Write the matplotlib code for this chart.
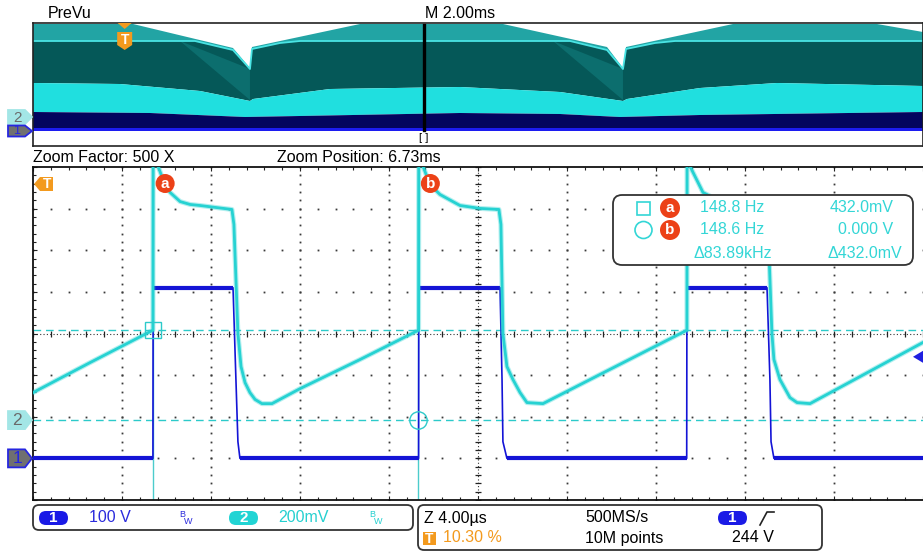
import numpy as np
import matplotlib.pyplot as plt
from matplotlib.patches import Polygon, FancyBboxPatch, Rectangle, Circle

plt.rcParams['font.family'] = ['Liberation Sans', 'DejaVu Sans']

W, H = 923, 552

# zoomed window: 4.00 us/div, 10 divisions
time_div = 4.0          # us/div
ch1_scale = 100.0       # V/div
ch1_pos = -3.0          # div
ch2_scale = 200.0       # mV/div
ch2_pos = -2.08         # div

# CH1 (switch node), us / V
ch1_t = [0, 5.39, 5.40, 8.99, 9.12, 9.21, 9.30, 17.33, 17.34, 20.99, 21.08, 21.12, 21.30,
         29.38, 29.39, 32.99, 33.12, 33.17, 33.30, 40.0]
ch1_v = [0, 0, 410, 410, 190, 40, 0, 0, 410, 410, 190, 40, 0,
         0, 410, 410, 190, 40, 0, 0]

# CH2 (current sense), us / mV
ch2_t = [0.0, 2.56, 5.39, 5.40, 5.62, 5.93, 6.16, 6.61, 7.06, 7.51, 8.18, 8.94, 9.03, 9.21,
         9.35, 9.53, 9.75, 9.98, 10.29, 10.74, 12.00, 14.70, 17.33,
         17.34, 17.53, 17.84, 18.29, 19.19, 20.09, 20.94, 21.03, 21.12, 21.30, 21.57, 21.89,
         22.20, 22.92, 25.48, 29.39,
         29.40, 29.53, 30.11, 30.88, 31.78, 32.94, 33.03, 33.21, 33.30, 33.57, 34.02, 34.34,
         34.92, 37.17, 40.0]
ch2_mv = [132, 276, 432, 1450, 1219, 1132, 1094, 1050, 1036, 1031, 1022, 1012, 940, 416,
          257, 180, 132, 99, 79, 79, 151, 291, 432,
          1450, 1219, 1132, 1084, 1031, 1017, 1012, 940, 416, 257, 195, 132,
          84, 79, 219, 432,
          1450, 1219, 1094, 1050, 1031, 1012, 940, 416, 291, 195, 108, 84,
          79, 209, 373]

# cursors and trigger
cur_a_t, cur_b_t = 5.40, 17.32      # us
cur_a_mv, cur_b_mv = 432.0, 0.0     # mV
trig_level = 244.0                  # V on CH1
trig_pct = 10.30                    # % of record
zoom_pos = 6.73                     # ms after trigger
prevu_div = 2.00                    # ms/div

# PreVu envelope, x in ms, rows in px below the frame top
pv_top_x = [0, 2.247, 4.494, 4.876, 4.921, 7.348, 10.562, 12.899, 13.258, 13.326, 15.730, 18.966, 20]
pv_top_y = [1, 1, 25, 45, 24, 1, 1, 24, 45, 24, 1, 1, 9]
pv_line_x = [0, 3.640, 4.494, 4.876, 4.921, 5.551, 6.0, 12.067, 12.899, 13.258, 13.326, 13.978, 14.427, 20]
pv_line_y = [18, 18, 27, 46, 26, 20, 18, 18, 27, 46, 26, 20, 18, 18]
pv_bright_x = [0, 1.955, 3.753, 4.876, 4.944, 6.674, 9.596, 11.843, 13.258, 13.348, 14.989, 16.719, 20]
pv_bright_y = [60, 61, 68, 78, 76, 66, 64, 69, 78, 76, 65, 60, 63]
pv_navy_x = [0, 2.629, 4.764, 6.0, 9.596, 11.843, 13.191, 14.989, 20]
pv_navy_y = [89, 90, 94, 93, 90, 91, 94, 92, 89]
pv_navy_bottom = 105
pv_wedges = [[(3.303, 18), (4.876, 46), (4.876, 77)],
             [(11.685, 18), (13.258, 46), (13.258, 77)]]

BLUE = '#1414d6'
CYAN = '#26d2d2'
CUR = '#4ccccc'
ORANGE = '#f39a1e'
RED = '#ec4117'
FS = 11.5

fig = plt.figure(figsize=(W / 100, H / 100), dpi=100)


def px_box(left, top, width, height):
    return [left / W, 1 - (top + height) / H, width / W, height / H]


ax = fig.add_axes(px_box(33, 167, 890, 333))
pv = fig.add_axes(px_box(33, 23, 890, 123))
ov = fig.add_axes([0, 0, 1, 1])
ov.set_xlim(0, W)
ov.set_ylim(H, 0)
ov.axis('off')

# ---------------- main graticule ----------------
ax.set_xlim(0, 10 * time_div)
ax.set_ylim(-4, 4)
for side in ['left', 'top', 'bottom']:
    ax.spines[side].set_linewidth(1.3)
    ax.spines[side].set_color('#111111')
ax.spines['right'].set_visible(False)
ax.set_xticks(np.arange(0, 40.01, time_div))
ax.set_xticks(np.arange(0, 40.01, time_div / 5), minor=True)
ax.set_yticks(np.arange(-4, 4.01, 1))
ax.set_yticks(np.arange(-4, 4.01, 0.2), minor=True)
ax.tick_params(which='both', direction='in', width=0.8, colors='#222222',
               labelleft=False, labelbottom=False, top=True, bottom=True,
               left=True, right=False)
ax.tick_params(which='major', length=3)
ax.tick_params(which='minor', length=2.2)

minor_y = np.arange(-4, 4.01, 0.2)
minor_x = np.arange(0, 40.01, time_div / 5)
for k in range(1, 10):
    if k == 5:
        continue
    ax.plot(np.full_like(minor_y, k * time_div), minor_y, ls='none', marker='s',
            ms=1.3, mew=0, color='#3a3a3a', zorder=1)
for j in range(-3, 4):
    if j == 0:
        continue
    ax.plot(minor_x, np.full_like(minor_x, j), ls='none', marker='s',
            ms=1.3, mew=0, color='#3a3a3a', zorder=1)

# centre cross with tick marks
ax.axvline(5 * time_div, ls=(0, (1, 2)), lw=0.8, color='#333333', zorder=1)
ax.axhline(0, ls=(0, (1, 2)), lw=0.8, color='#333333', zorder=1)
ax.plot(np.full_like(minor_y, 5 * time_div), minor_y, ls='none', marker='_',
        ms=5, mew=0.9, color='#222222', zorder=1)
ax.plot(minor_x, np.zeros_like(minor_x), ls='none', marker='|',
        ms=5, mew=0.9, color='#222222', zorder=1)

# cursors
for tc in (cur_a_t, cur_b_t):
    ax.axvline(tc, color=CUR, lw=1.0, zorder=2)
for lv in (cur_a_mv, cur_b_mv):
    ax.axhline(lv / ch2_scale + ch2_pos, color='#2ccaca', lw=1.0,
               ls=(0, (5.5, 3.5)), zorder=2)

# traces
t1 = np.array(ch1_t)
y1 = np.array(ch1_v) / ch1_scale + ch1_pos
ax.plot(t1, y1, color=BLUE, lw=1.2, zorder=3)
for i in np.where(np.diff(y1) == 0)[0]:
    ax.plot(t1[i:i + 2], y1[i:i + 2], color=BLUE, lw=3.0,
            solid_capstyle='butt', zorder=3)

t2 = np.array(ch2_t)
y2 = np.array(ch2_mv) / ch2_scale + ch2_pos
ax.plot(t2, y2, color=CYAN, lw=3.6, alpha=0.35, zorder=4)
ax.plot(t2, y2, color=CYAN, lw=2.0, zorder=4)

ax.plot(cur_a_t, cur_a_mv / ch2_scale + ch2_pos, marker='s', ms=11.5,
        mfc='none', mec='#2ccaca', mew=1.0, zorder=5)
ax.plot(cur_b_t, cur_b_mv / ch2_scale + ch2_pos, marker='o', ms=12.5,
        mfc='none', mec='#2ccaca', mew=1.0, zorder=5)

# ---------------- PreVu ----------------
pv.set_xlim(0, 10 * prevu_div)
pv.set_ylim(123, 0)
pv.set_xticks([])
pv.set_yticks([])
for s in pv.spines.values():
    s.set_linewidth(1.2)
    s.set_color('#222222')


def band(xa, ya, xb, yb, color):
    pts = list(zip(xa, ya)) + list(zip(xb, yb))[::-1]
    pv.add_patch(Polygon(pts, closed=True, fc=color, ec='none', zorder=1))


band(pv_top_x, pv_top_y, pv_line_x, pv_line_y, '#22a4a4')
band(pv_line_x, pv_line_y, pv_bright_x, pv_bright_y, '#055858')
for w in pv_wedges:
    pv.add_patch(Polygon(w, closed=True, fc='#0c6e6e', ec='none', zorder=1))
band(pv_bright_x, pv_bright_y, pv_navy_x, pv_navy_y, '#20dfdf')
band(pv_navy_x, pv_navy_y, [0, 20], [pv_navy_bottom] * 2, '#03055e')
pv.plot(pv_line_x, pv_line_y, color='#4ae4e4', lw=1.3, zorder=2)
pv.fill_between([0, 20], pv_navy_bottom, pv_navy_bottom + 2.5, color='#1c1cf0', lw=0, zorder=2)

trig_ms = trig_pct / 100 * 10 * prevu_div
zoom_ms = trig_ms + zoom_pos
pv.plot([zoom_ms, zoom_ms], [2, 107], color='black', lw=2.4, zorder=3)


def to_px(a, x, y):
    d = a.transData.transform((x, y))
    return ov.transData.inverted().transform(d)


# ---------------- markers ----------------
def tag(tip_x, y, label, fc, ec, tc, w=24, h=18, fs=12.5):
    pts = [(tip_x - w, y - h / 2), (tip_x - 7, y - h / 2), (tip_x, y),
           (tip_x - 7, y + h / 2), (tip_x - w, y + h / 2)]
    ov.add_patch(Polygon(pts, closed=True, fc=fc, ec=ec, lw=1.3, zorder=6))
    ov.text(tip_x - w / 2 - 3, y + 0.5, label, color=tc, ha='center', va='center',
            fontsize=fs, zorder=7)


_, g2 = to_px(ax, 0, cur_b_mv / ch2_scale + ch2_pos)
_, g1 = to_px(ax, 0, ch1_pos)
tag(32, g2, '2', '#a3e6e6', '#a3e6e6', '#6a6a6a')
tag(32, g1, '1', '#707070', '#2626e0', '#2626e0')
tag(32, 117, '2', '#a3e6e6', '#a3e6e6', '#6a6a6a', h=14, fs=11)
tag(32, 131, '1', '#707070', '#2626e0', '#2626e0', h=11, fs=9)

# trigger level arrow on the right edge
_, tl = to_px(ax, 0, trig_level / ch1_scale + ch1_pos)
ov.add_patch(Polygon([(913, tl), (923, tl - 6), (923, tl + 6)], closed=True,
                     fc='#1f1fe0', ec='none', zorder=6))

# trigger T in main window
ov.add_patch(Polygon([(34, 184), (40, 177), (53, 177), (53, 191), (40, 191)],
                     closed=True, fc=ORANGE, ec='none', zorder=6))
ov.text(47, 184.5, 'T', color='white', fontsize=10, fontweight='bold',
        ha='center', va='center', zorder=7)

# trigger T in PreVu
tx, _ = to_px(pv, trig_ms, 0)
ov.add_patch(Polygon([(tx - 7, 23), (tx + 7, 23), (tx, 29)], closed=True,
                     fc=ORANGE, ec='none', zorder=6))
ov.add_patch(Polygon([(tx - 7.5, 32), (tx + 7.5, 32), (tx + 7.5, 45), (tx, 50),
                      (tx - 7.5, 45)], closed=True, fc=ORANGE, ec='none', zorder=6))
ov.text(tx, 39.5, 'T', color='white', fontsize=10, fontweight='bold',
        ha='center', va='center', zorder=7)

zx, _ = to_px(pv, zoom_ms, 0)
ov.text(zx, 138, '[ ]', fontsize=8, ha='center', va='center')

# cursor labels
for tc, lab in ((cur_a_t, 'a'), (cur_b_t, 'b')):
    cx, cy = to_px(ax, tc, 4)
    ov.add_patch(Circle((cx + 12, cy + 16.5), 9.5, fc=RED, ec='none', zorder=6))
    ov.text(cx + 12, cy + 16.5, lab, color='white', fontsize=11, fontweight='bold',
            ha='center', va='center', zorder=7)

# ---------------- header text ----------------
ov.text(48, 13, 'PreVu', fontsize=FS, va='center')
ov.text(425, 13, f'M {prevu_div:.2f}ms', fontsize=FS, va='center')
ov.text(33, 157, 'Zoom Factor: 500 X', fontsize=FS, va='center')
ov.text(277, 157, f'Zoom Position: {zoom_pos:.2f}ms', fontsize=FS, va='center')

# ---------------- cursor readout box ----------------
ov.add_patch(FancyBboxPatch((613, 195), 300, 70, boxstyle='round,pad=0,rounding_size=9',
                            fc='white', ec='#333333', lw=1.3, zorder=8))
MC = '#33d6d6'
ov.add_patch(Rectangle((637, 201.5), 13, 13, fc='none', ec=MC, lw=1.2, zorder=9))
ov.add_patch(Circle((643.5, 230), 8.5, fc='none', ec=MC, lw=1.2, zorder=9))
for yy, lab in ((208, 'a'), (230, 'b')):
    ov.add_patch(Circle((670, yy), 10, fc=RED, ec='none', zorder=9))
    ov.text(670, yy, lab, color='white', fontsize=11, fontweight='bold',
            ha='center', va='center', zorder=10)
ov.text(700, 208, '148.8 Hz', color=MC, fontsize=FS, va='center', zorder=10)
ov.text(700, 230, '148.6 Hz', color=MC, fontsize=FS, va='center', zorder=10)
ov.text(893, 208, f'{cur_a_mv:.1f}mV', color=MC, fontsize=FS, va='center', ha='right', zorder=10)
ov.text(893, 230, f'{cur_b_mv / 1000:.3f} V', color=MC, fontsize=FS, va='center', ha='right', zorder=10)
ov.text(693, 253, f'Δ{1000 / (cur_b_t - cur_a_t):.2f}kHz', color=MC, fontsize=FS,
        va='center', zorder=10)
ov.text(902, 253, f'Δ{cur_a_mv - cur_b_mv:.1f}mV', color=MC, fontsize=FS,
        va='center', ha='right', zorder=10)

# ---------------- status bar ----------------
ov.add_patch(FancyBboxPatch((33, 505), 380, 25, boxstyle='round,pad=0,rounding_size=6',
                            fc='white', ec='#333333', lw=1.3))
ov.add_patch(FancyBboxPatch((418, 505), 404, 45, boxstyle='round,pad=0,rounding_size=6',
                            fc='white', ec='#333333', lw=1.3))


def pill(x, y, label, color):
    ov.add_patch(FancyBboxPatch((x, y), 29, 14, boxstyle='round,pad=0,rounding_size=7',
                                fc=color, ec='none'))
    ov.text(x + 14.5, y + 7.5, label, color='white', fontsize=11, fontweight='bold',
            ha='center', va='center')


pill(39, 511, '1', '#1a1ae6')
pill(229, 511, '2', '#22d4d4')
ov.text(89, 518, f'{ch1_scale:.0f} V', color='#2b2bdc', fontsize=FS, va='center')
ov.text(278, 518, f'{ch2_scale:.0f}mV', color='#25d0d0', fontsize=FS, va='center')
for bx, col in ((182, '#2b2bdc'), (372, '#25d0d0')):
    ov.text(bx, 514.5, 'B', color=col, fontsize=6.5, ha='center', va='center')
    ov.text(bx + 6, 521, 'W', color=col, fontsize=6.5, ha='center', va='center')

ov.text(424, 518, f'Z {time_div:.2f}µs', fontsize=FS, va='center')
ov.add_patch(Rectangle((423, 532), 13, 13, fc=ORANGE, ec='none'))
ov.text(429.5, 538.8, 'T', color='white', fontsize=10, fontweight='bold',
        ha='center', va='center')
ov.text(443, 538, f'{trig_pct:.2f} %', color=ORANGE, fontsize=FS, va='center')
ov.text(585, 518, '500MS/s', fontsize=FS, va='center')
ov.text(585, 538, '10M points', fontsize=FS, va='center')
pill(718, 511, '1', '#1a1ae6')
ov.plot([760, 767, 774], [525, 512, 512], color='#222222', lw=1.2)
ov.text(732, 538, f'{trig_level:.0f} V', fontsize=FS, va='center')

fig.savefig('out.png', dpi=100, facecolor='white')
